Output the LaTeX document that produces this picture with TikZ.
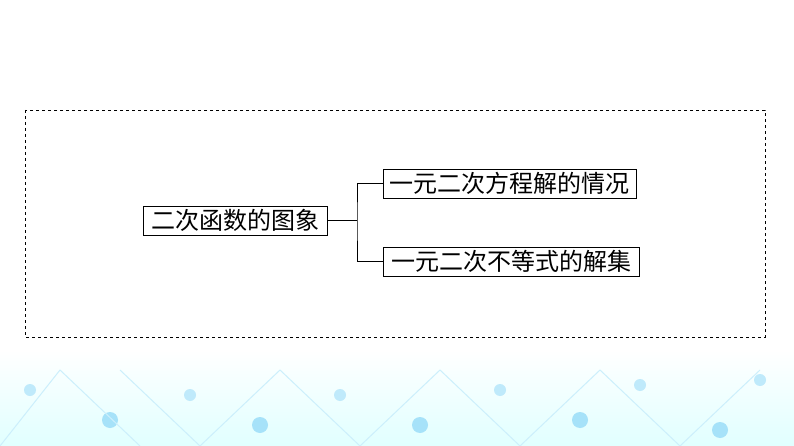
\documentclass[tikz,border=0pt]{standalone}
\usepackage{fontspec}
\newfontfamily\cjk{Noto Sans CJK SC}
\begin{document}
\begin{tikzpicture}[x=1pt,y=-1pt,
  box/.style={draw,line width=0.6pt,inner sep=1pt,minimum height=29pt,font=\cjk\fontsize{24}{26}\selectfont,anchor=center},
  conn/.style={line width=0.6pt}]
\useasboundingbox (0,0) rectangle (794,446);
\fill[white] (0,0) rectangle (794,446);
\shade[top color=white,bottom color=cyan!12] (0,350) rectangle (794,446);
\foreach \x/\y in {30/390,190/395,340/395,500/390,640/385,760/380}{
  \fill[cyan!25] (\x,\y) circle (6);}
\foreach \x/\y in {110/420,260/425,420/425,580/420,720/430}{
  \fill[cyan!35] (\x,\y) circle (8);}
\draw[cyan!20,line width=1pt] (0,446)--(60,370)--(140,446) (120,370)--(200,446)--(280,370)--(360,446)--(440,370)--(520,446)--(600,370)--(680,446)--(760,370);
\draw[dashed,line width=0.6pt] (25,110) rectangle (765,337);
\node[box,minimum width=184pt] (a) at (235,220.5) {二次函数的图象};
\node[box,minimum width=253pt] (b) at (509.5,183.5) {一元二次方程解的情况};
\node[box,minimum width=256pt] (c) at (511,261.5) {一元二次不等式的解集};
\coordinate (m) at (357,220.5);
\draw[conn] (a.east) -- (m);
\draw[conn] (b.west) -| (m) |- (c.west);
\end{tikzpicture}
\end{document}
